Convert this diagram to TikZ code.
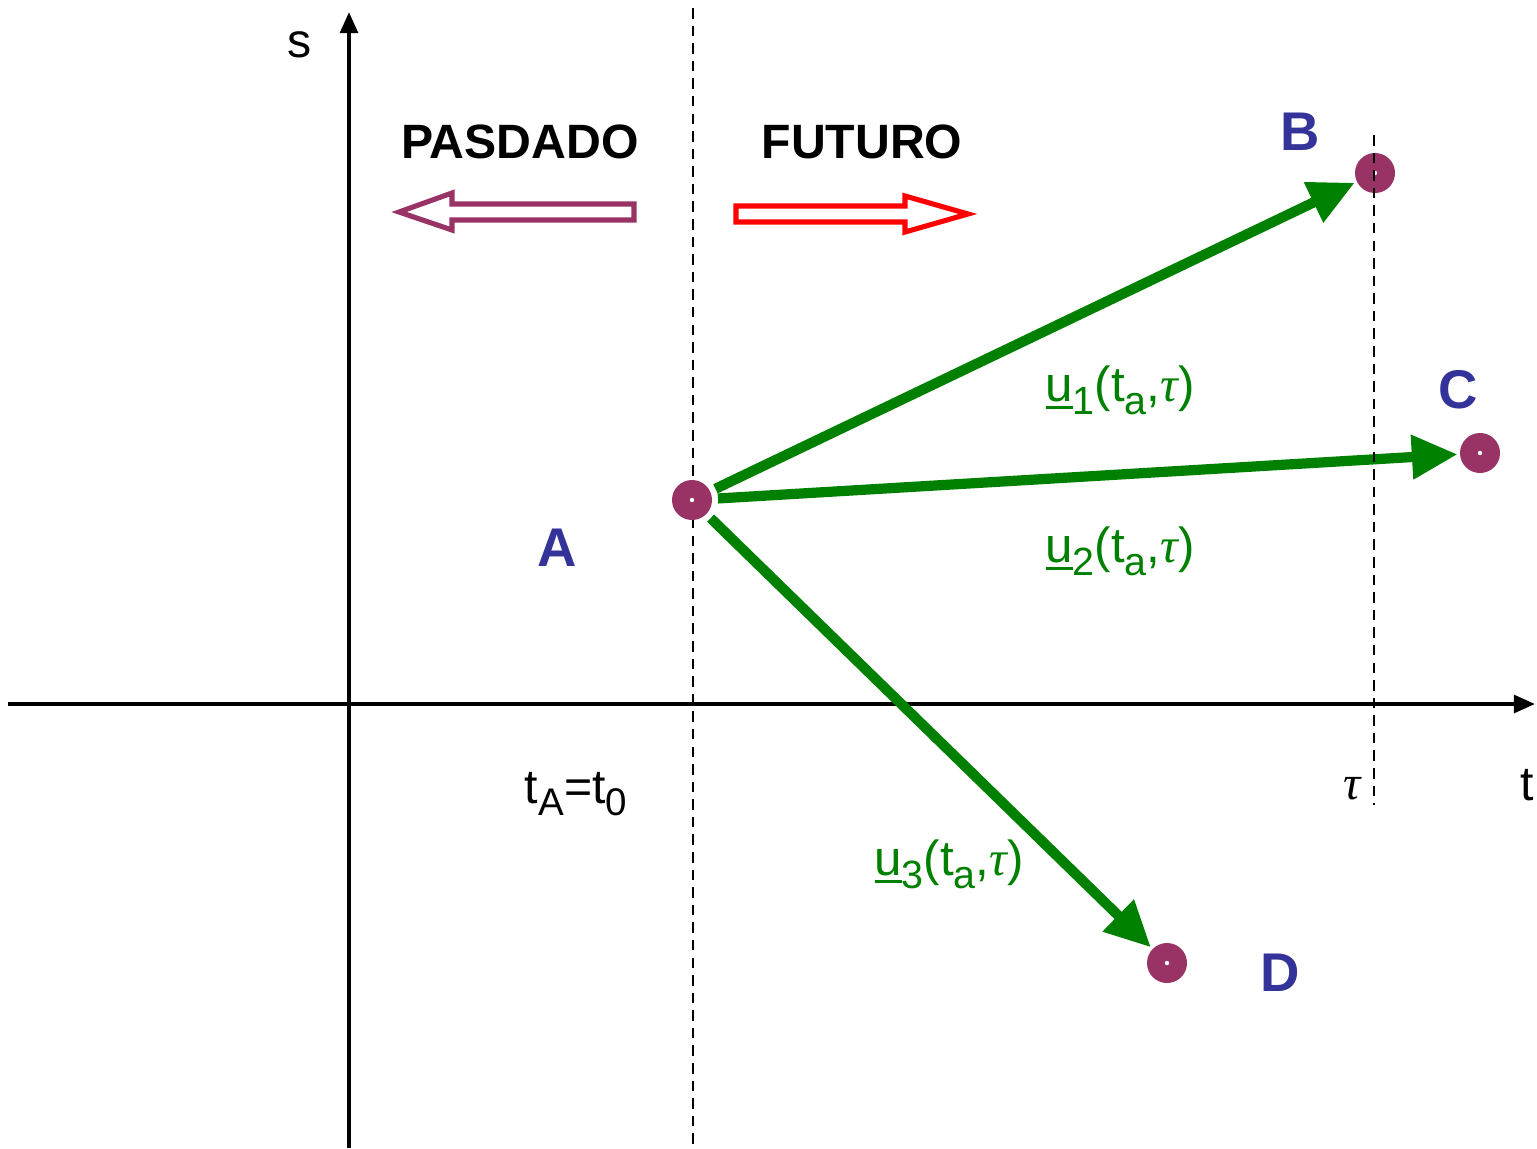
\documentclass[tikz,border=0pt]{standalone}
\usepackage{fontspec}
\setmainfont{Liberation Sans}
\newfontfamily\greekfont{Liberation Serif}
\usetikzlibrary{arrows.meta}
\definecolor{dotpurple}{HTML}{993366}
\definecolor{lblblue}{HTML}{333399}
\definecolor{vecgreen}{HTML}{008000}
\definecolor{futred}{HTML}{FF0000}
\newcommand\tauit{{\greekfont\itshape τ}}
\newcommand\lowsub[1]{\raisebox{-0.5ex}{\scalebox{0.8}{#1}}}
\newcommand\ulu{\setbox0\hbox{u}\leavevmode\rlap{\rule[-0.17em]{\wd0}{0.07em}}u}
\newcommand\ulab[1]{\ulu\lowsub{#1}(t\lowsub{a},\tauit)}
\begin{document}
\begin{tikzpicture}[x=0.01cm,y=-0.01cm,
  axis/.style={line width=1.15pt,black,-{Triangle[length=6pt,width=5pt]}},
  guide/.style={line width=0.75pt,black,dash pattern=on 3pt off 2pt},
  pt/.style={circle,fill=dotpurple,minimum size=0.4cm,inner sep=0pt},
  vec/.style={line width=2.9pt,vecgreen,-{Triangle[length=13pt,width=12pt]},shorten <=1.5pt,shorten >=0.5pt},
  hollow/.style={line width=1.45pt,line join=miter},
  ptlab/.style={font=\fontsize{15.5}{18}\selectfont\bfseries,text=lblblue,anchor=base,inner sep=0pt},
  zone/.style={font=\fontsize{13.7}{16}\selectfont\bfseries,anchor=base,inner sep=0pt},
  axlab/.style={font=\fontsize{13.7}{16}\selectfont,anchor=base,inner sep=0pt},
  vlab/.style={font=\fontsize{14}{16}\selectfont,text=vecgreen,anchor=base,inner sep=0pt}]
\useasboundingbox (0,0) rectangle (1537,1148);

% axes
\coordinate (sbot) at (349,1148);
\coordinate (stop) at (349,12);
\coordinate (tleft) at (8,704);
\coordinate (tright) at (1535,704);
\draw[axis] (sbot) -- (stop);
\draw[axis] (tleft) -- (tright);
\node[axlab] (slab) at (300,57) {s};
\node[axlab] (tlab) at (1527,800) {t};

% present instant
\coordinate (nowtop) at (693,8);
\coordinate (nowbot) at (693,1148);
\draw[guide] (nowtop) -- (nowbot);
\node[axlab] (t0lab) at (576,803) {t\lowsub{A}=t\lowsub{0}};

% past / future headings with hollow arrows
\node[zone] (past) at (520,158) {PASDADO};
\node[zone] (future) at (862,158) {FUTURO};
\draw[hollow,dotpurple]
  (399,212) -- (452,193) -- (452,204) -- (634,204) -- (634,220) -- (452,220) -- (452,230) -- cycle;
\draw[hollow,futred]
  (736,206) -- (905,206) -- (905,196) -- (968,214) -- (905,232) -- (905,222) -- (736,222) -- cycle;

% states
\node[pt] (A) at (692,500) {};
\node[pt] (B) at (1375,173) {};
\node[pt] (C) at (1480,453) {};
\node[pt] (D) at (1167,963) {};
\foreach \p in {A,B,C,D} \fill[white] (\p) circle (2.2);

\node[ptlab] (Alab) at (557,566) {A};
\node[ptlab] (Blab) at (1300,150) {B};
\node[ptlab] (Clab) at (1458,408) {C};
\node[ptlab] (Dlab) at (1280,991) {D};

% control vectors
\draw[vec] (A) -- (B);
\draw[vec] (A) -- (C);
\draw[vec] (A) -- (D);
\node[vlab] (u1) at (1120,401) {\ulab{1}};
\node[vlab] (u2) at (1120,562) {\ulab{2}};
\node[vlab] (u3) at (949,875) {\ulab{3}};

% horizon
\coordinate (tautop) at (1374,135);
\coordinate (taubot) at (1374,805);
\draw[guide] (tautop) -- (taubot);
\node[axlab] (taulab) at (1352,799) {\tauit};
\end{tikzpicture}
\end{document}
